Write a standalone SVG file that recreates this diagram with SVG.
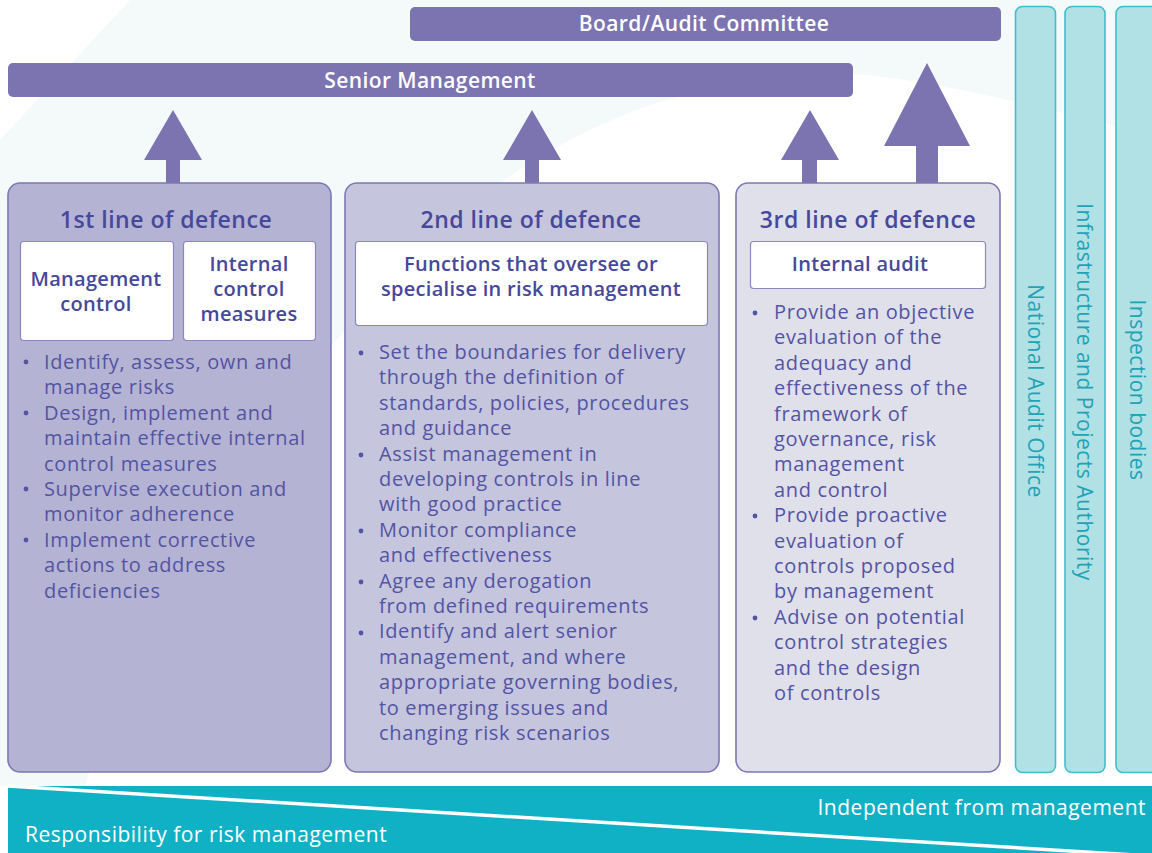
<svg xmlns="http://www.w3.org/2000/svg" width="1152" height="853" viewBox="0 0 1152 853">
  <defs>
    <style>
      .bar { fill: #7b74b0; }
      .bartxt { font-family: "Open Sans", "Liberation Sans", sans-serif; font-size: 21px; font-weight: 600; letter-spacing: 0.4px; fill: #ffffff; text-anchor: middle; }
      .arrow { fill: #7b74b0; }
      .line { stroke: #7d77b3; stroke-width: 1.6; }
      .l1 { fill: #b5b3d3; }
      .l2 { fill: #c5c5de; }
      .l3 { fill: #e0e0eb; }
      .sub { fill: #ffffff; stroke: #8c87bd; stroke-width: 1.2; }
      .head { font-family: "Open Sans", "Liberation Sans", sans-serif; font-size: 23px; font-weight: 600; letter-spacing: 0.5px; fill: #46489a; text-anchor: middle; }
      .subtxt { font-family: "Open Sans", "Liberation Sans", sans-serif; font-size: 20px; font-weight: 600; letter-spacing: 0.3px; fill: #46489a; text-anchor: middle; }
      .body { font-family: "Open Sans", "Liberation Sans", sans-serif; font-size: 20px; letter-spacing: 0.65px; fill: #5354a3; }
      .dot { fill: #5354a3; }
      .ext { fill: #b1e0e5; stroke: #3fbfcd; stroke-width: 1.6; }
      .exttxt { font-family: "Open Sans", "Liberation Sans", sans-serif; font-size: 21px; font-weight: 500; letter-spacing: 0.5px; fill: #1fa3b5; text-anchor: middle; }
      .band { fill: #10b1c4; }
      .bandtxt { font-family: "Open Sans", "Liberation Sans", sans-serif; font-size: 21px; font-weight: 500; letter-spacing: 0.5px; fill: #ffffff; }
    </style>
  </defs>

  <!-- page background with soft tint -->
  <rect x="0" y="0" width="1152" height="853" fill="#ffffff"/>
  <path d="M130,0 H1152 V135 C1050,110 930,78 850,74 C560,70 380,260 250,460 C170,590 110,700 85,786 H0 V140 Z" fill="#f4f9fa"/>

  <!-- oversight bars -->
  <g id="board">
    <rect class="bar" x="410" y="7" width="591" height="34" rx="5"/>
    <text class="bartxt" x="704" y="31">Board/Audit Committee</text>
  </g>
  <g id="senior-management">
    <rect class="bar" x="8" y="63" width="845" height="34" rx="5"/>
    <text class="bartxt" x="430" y="88">Senior Management</text>
  </g>

  <!-- reporting arrows -->
  <g id="connectors">
    <path class="arrow" d="M173,110 L202,160 H180 V184 H166 V160 H144 Z"/>
    <path class="arrow" d="M532,110 L561,160 H539 V184 H525 V160 H503 Z"/>
    <path class="arrow" d="M810,110 L839,160 H817 V184 H802 V160 H781 Z"/>
    <path class="arrow" d="M927,63 L970,146 H938 V184 H916 V146 H884 Z"/>
  </g>

  <!-- 1st line of defence -->
  <g id="line1">
    <rect class="l1 line" x="8" y="183" width="323" height="589" rx="12"/>
    <text class="head" x="166" y="228">1st line of defence</text>
    <rect class="sub" x="20.5" y="241.5" width="153" height="99" rx="3"/>
    <text class="subtxt" x="96" y="286">Management<tspan x="96" dy="25">control</tspan></text>
    <rect class="sub" x="183.5" y="241.5" width="132" height="99" rx="3"/>
    <text class="subtxt" x="249" y="271">Internal<tspan x="249" dy="25">control</tspan><tspan x="249" dy="25">measures</tspan></text>
    <g class="dot">
      <circle cx="26" cy="362" r="2.4"/>
      <circle cx="26" cy="413" r="2.4"/>
      <circle cx="26" cy="489" r="2.4"/>
      <circle cx="26" cy="540" r="2.4"/>
    </g>
    <text class="body" x="44" y="369">Identify, assess, own and<tspan x="44" dy="25.4">manage risks</tspan><tspan x="44" dy="25.4">Design, implement and</tspan><tspan x="44" dy="25.4">maintain effective internal</tspan><tspan x="44" dy="25.4">control measures</tspan><tspan x="44" dy="25.4">Supervise execution and</tspan><tspan x="44" dy="25.4">monitor adherence</tspan><tspan x="44" dy="25.4">Implement corrective</tspan><tspan x="44" dy="25.4">actions to address</tspan><tspan x="44" dy="25.4">deficiencies</tspan></text>
  </g>

  <!-- 2nd line of defence -->
  <g id="line2">
    <rect class="l2 line" x="345" y="183" width="374" height="589" rx="12"/>
    <text class="head" x="531" y="228">2nd line of defence</text>
    <rect class="sub" x="355.5" y="241.5" width="352" height="84" rx="3"/>
    <text class="subtxt" x="531" y="271">Functions that oversee or<tspan x="531" dy="25">specialise in risk management</tspan></text>
    <g class="dot">
      <circle cx="361" cy="353" r="2.4"/>
      <circle cx="361" cy="455" r="2.4"/>
      <circle cx="361" cy="531" r="2.4"/>
      <circle cx="361" cy="582" r="2.4"/>
      <circle cx="361" cy="633" r="2.4"/>
    </g>
    <text class="body" x="379" y="359">Set the boundaries for delivery<tspan x="379" dy="25.4">through the definition of</tspan><tspan x="379" dy="25.4">standards, policies, procedures</tspan><tspan x="379" dy="25.4">and guidance</tspan><tspan x="379" dy="25.4">Assist management in</tspan><tspan x="379" dy="25.4">developing controls in line</tspan><tspan x="379" dy="25.4">with good practice</tspan><tspan x="379" dy="25.4">Monitor compliance</tspan><tspan x="379" dy="25.4">and effectiveness</tspan><tspan x="379" dy="25.4">Agree any derogation</tspan><tspan x="379" dy="25.4">from defined requirements</tspan><tspan x="379" dy="25.4">Identify and alert senior</tspan><tspan x="379" dy="25.4">management, and where</tspan><tspan x="379" dy="25.4">appropriate governing bodies,</tspan><tspan x="379" dy="25.4">to emerging issues and</tspan><tspan x="379" dy="25.4">changing risk scenarios</tspan></text>
  </g>

  <!-- 3rd line of defence -->
  <g id="line3">
    <rect class="l3 line" x="736" y="183" width="264" height="589" rx="12"/>
    <text class="head" x="868" y="228">3rd line of defence</text>
    <rect class="sub" x="750.5" y="241.5" width="235" height="47" rx="3"/>
    <text class="subtxt" x="860" y="271">Internal audit</text>
    <g class="dot">
      <circle cx="755" cy="313" r="2.4"/>
      <circle cx="755" cy="516" r="2.4"/>
      <circle cx="755" cy="618" r="2.4"/>
    </g>
    <text class="body" x="774" y="319">Provide an objective<tspan x="774" dy="25.4">evaluation of the</tspan><tspan x="774" dy="25.4">adequacy and</tspan><tspan x="774" dy="25.4">effectiveness of the</tspan><tspan x="774" dy="25.4">framework of</tspan><tspan x="774" dy="25.4">governance, risk</tspan><tspan x="774" dy="25.4">management</tspan><tspan x="774" dy="25.4">and control</tspan><tspan x="774" dy="25.4">Provide proactive</tspan><tspan x="774" dy="25.4">evaluation of</tspan><tspan x="774" dy="25.4">controls proposed</tspan><tspan x="774" dy="25.4">by management</tspan><tspan x="774" dy="25.4">Advise on potential</tspan><tspan x="774" dy="25.4">control strategies</tspan><tspan x="774" dy="25.4">and the design</tspan><tspan x="774" dy="25.4">of controls</tspan></text>
  </g>

  <!-- external assurance bodies -->
  <g id="nao">
    <rect class="ext" x="1015.5" y="6.5" width="40" height="766" rx="7"/>
    <text class="exttxt" transform="translate(1028,391) rotate(90)">National Audit Office</text>
  </g>
  <g id="ipa">
    <rect class="ext" x="1065" y="6.5" width="40" height="766" rx="7"/>
    <text class="exttxt" transform="translate(1077,392) rotate(90)">Infrastructure and Projects Authority</text>
  </g>
  <g id="inspection">
    <rect class="ext" x="1116" y="6.5" width="50" height="766" rx="7"/>
    <text class="exttxt" transform="translate(1130,390) rotate(90)">Inspection bodies</text>
  </g>

  <!-- responsibility / independence band -->
  <g id="band">
    <rect class="band" x="8" y="786" width="1160" height="80" rx="3"/>
    <line x1="8" y1="786" x2="1152" y2="856" stroke="#ffffff" stroke-width="3.5"/>
    <text class="bandtxt" x="1146" y="815" text-anchor="end">Independent from management</text>
    <text class="bandtxt" x="25" y="842">Responsibility for risk management</text>
  </g>
</svg>
